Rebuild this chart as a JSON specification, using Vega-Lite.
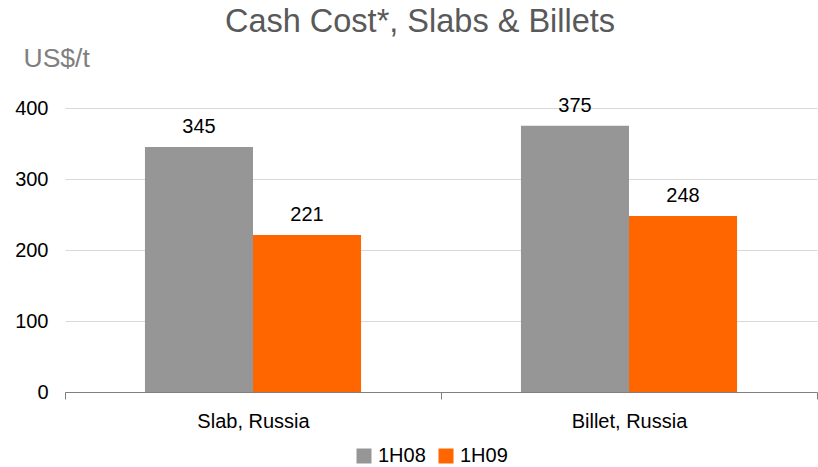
{
  "$schema": "https://vega.github.io/schema/vega-lite/v6.json",
  "autosize": "none",
  "width": 752,
  "height": 284,
  "padding": {"left": 65, "top": 108, "right": 1, "bottom": 75},
  "background": "white",
  "title": {
    "text": "Cash Cost*, Slabs & Billets",
    "font": "Liberation Sans",
    "fontSize": 32.5,
    "fontWeight": "normal",
    "color": "#595959",
    "anchor": "middle",
    "dx": -21,
    "offset": 7
  },
  "config": {
    "view": {"stroke": null},
    "font": "Liberation Sans"
  },
  "data": {
    "values": [
      {"category": "Slab, Russia", "period": "1H08", "value": 345},
      {"category": "Slab, Russia", "period": "1H09", "value": 221},
      {"category": "Billet, Russia", "period": "1H08", "value": 375},
      {"category": "Billet, Russia", "period": "1H09", "value": 248}
    ]
  },
  "encoding": {
    "x": {
      "field": "category",
      "type": "nominal",
      "sort": ["Slab, Russia", "Billet, Russia"],
      "scale": {"paddingInner": 0, "paddingOuter": 0},
      "axis": {
        "title": null,
        "labelAngle": 0,
        "labelFontSize": 20,
        "labelColor": "#000000",
        "labelFont": "Liberation Sans",
        "labelPadding": 12,
        "tickBand": "extent",
        "tickColor": "#808080",
        "tickSize": 7,
        "domainColor": "#808080",
        "grid": false
      }
    },
    "xOffset": {
      "field": "period",
      "type": "nominal",
      "sort": ["1H08", "1H09"],
      "scale": {"paddingInner": 0, "paddingOuter": 0.74}
    },
    "y": {
      "field": "value",
      "type": "quantitative",
      "scale": {"domain": [0, 400], "nice": false},
      "axis": {
        "values": [0, 100, 200, 300, 400],
        "title": "US$/t",
        "titleAngle": 0,
        "titleAlign": "left",
        "titleBaseline": "alphabetic",
        "titleX": -42,
        "titleY": -42,
        "titleFont": "Liberation Sans",
        "titleFontSize": 26.5,
        "titleFontWeight": "normal",
        "titleColor": "#808080",
        "labelFontSize": 20,
        "labelColor": "#000000",
        "labelFont": "Liberation Sans",
        "labelPadding": 17,
        "domain": false,
        "ticks": false,
        "gridColor": "#d9d9d9",
        "gridWidth": 1
      }
    }
  },
  "layer": [
    {
      "mark": {"type": "bar"},
      "encoding": {
        "color": {
          "field": "period",
          "type": "nominal",
          "sort": ["1H08", "1H09"],
          "scale": {"domain": ["1H08", "1H09"], "range": ["#969696", "#ff6600"]},
          "legend": {
            "title": null,
            "orient": "none",
            "direction": "horizontal",
            "legendX": 289,
            "legendY": 338,
            "symbolType": "square",
            "symbolSize": 225,
            "symbolStrokeWidth": 0,
            "labelFontSize": 20,
            "labelFont": "Liberation Sans",
            "labelColor": "#000000",
            "labelOffset": 4,
            "columnPadding": 10
          }
        }
      }
    },
    {
      "mark": {"type": "text", "baseline": "alphabetic", "dy": -14, "fontSize": 20, "font": "Liberation Sans", "color": "#000000"},
      "encoding": {
        "text": {"field": "value", "type": "quantitative"}
      }
    }
  ]
}
